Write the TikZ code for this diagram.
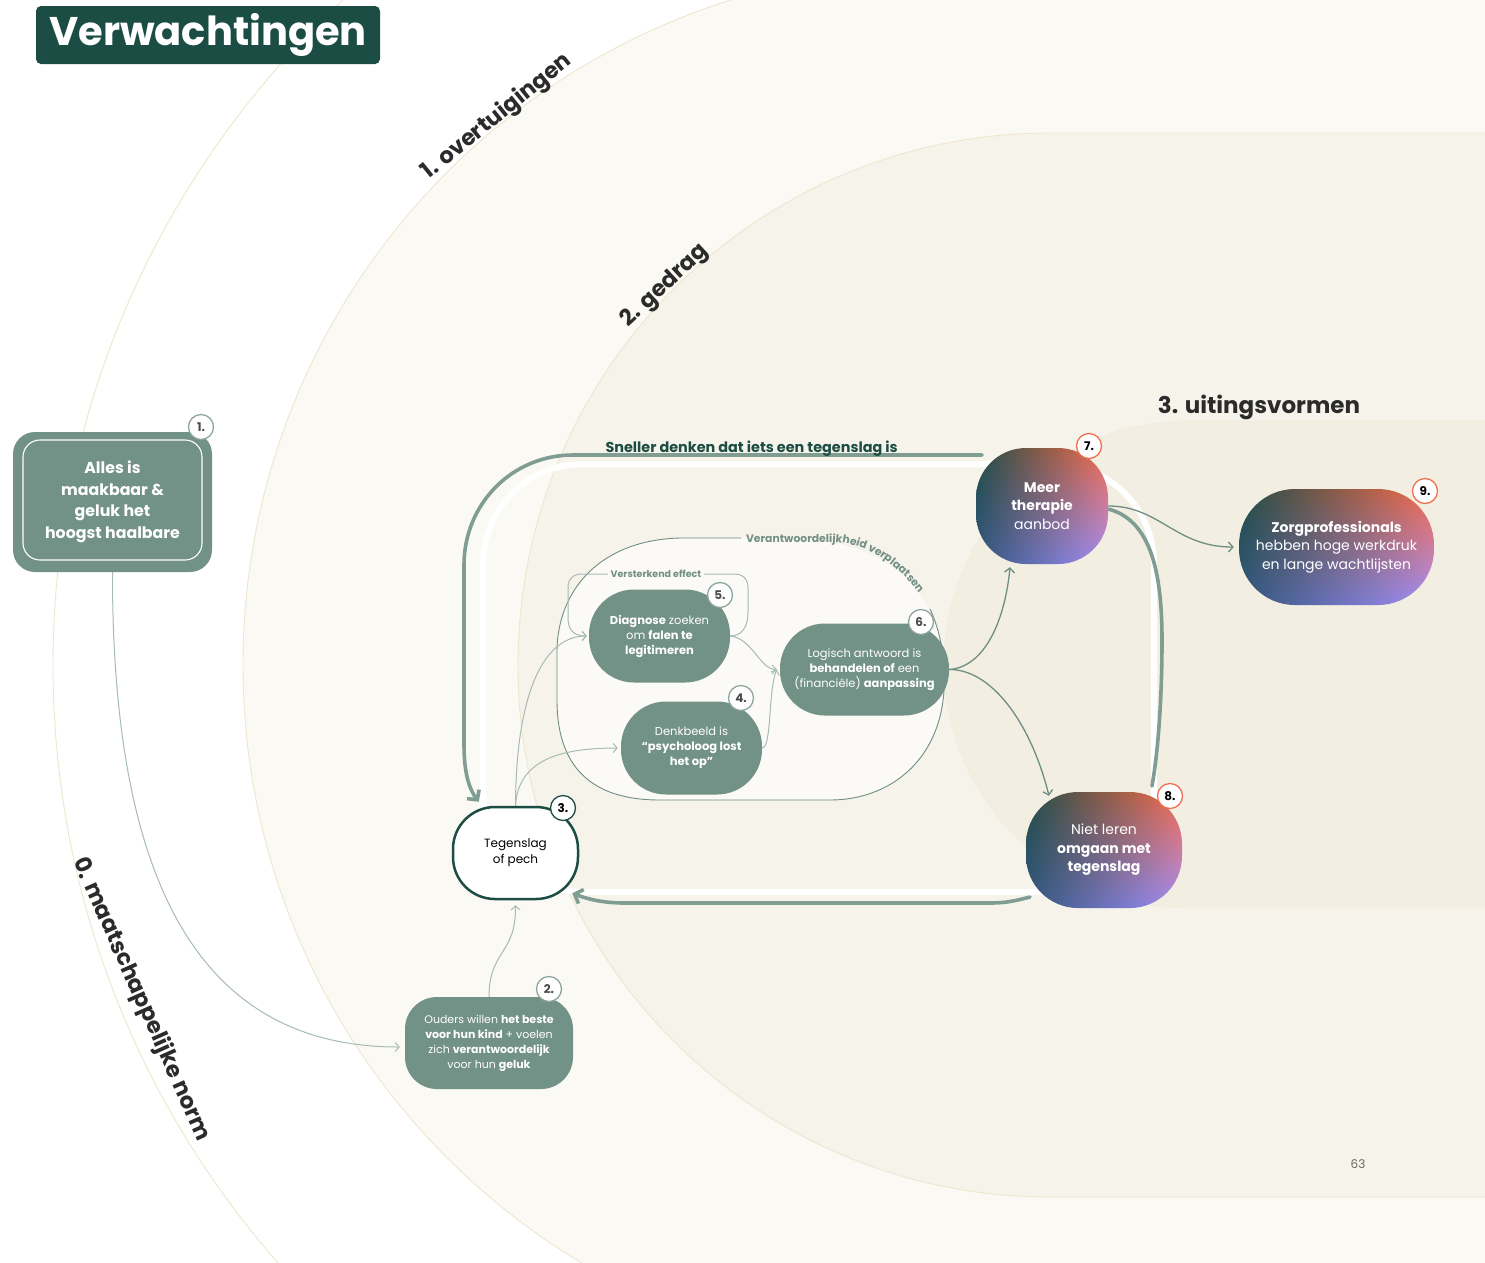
\documentclass[tikz,border=0pt]{standalone}
\usepackage{fontspec}
\setmainfont{Poppins}
\usetikzlibrary{arrows.meta,decorations.text}

\definecolor{regionA}{HTML}{FAF9F4}
\definecolor{regionB}{HTML}{F6F3EA}
\definecolor{regionC}{HTML}{F2EEE1}
\definecolor{rimline}{HTML}{EFE6CE}
\definecolor{loopfill}{HTML}{FBFAF6}
\definecolor{sage}{HTML}{729187}
\definecolor{sagethin}{HTML}{A6BBB3}
\definecolor{sagethick}{HTML}{7F9D92}
\definecolor{sagemid}{HTML}{6F8E84}
\definecolor{sagelabel}{HTML}{738F86}
\definecolor{deepgreen}{HTML}{1C4D44}
\definecolor{badgerim}{HTML}{8EA59D}
\definecolor{numgray}{HTML}{4A4A4A}
\definecolor{coral}{HTML}{F26E4E}
\definecolor{inkdark}{HTML}{2B2B2B}
\definecolor{pagegray}{HTML}{6A6A6A}

\pgfdeclarelayer{regions}
\pgfdeclarelayer{links}
\pgfsetlayers{regions,links,main}

% bilinear blend: teal (left top), blue (left bottom), coral (right top), lavender (right bottom)
\pgfdeclarefunctionalshading{warmglow}{\pgfpoint{-50bp}{-50bp}}{\pgfpoint{50bp}{50bp}}{}{
25 add 50 div exch 25 add 50 div exch
dup -0.08 mul 0.20 add 1 index 0.33 mul 0.64 add 1 index sub 3 index mul add
1 index -0.04 mul 0.34 add 2 index -0.14 mul 0.56 add 1 index sub 4 index mul add
2 index -0.22 mul 0.50 add 3 index -0.69 mul 0.98 add 1 index sub 5 index mul add
5 3 roll pop pop
}

\tikzset{
  sagebox/.style={fill=sage, text=white, align=center, inner sep=0pt},
  warmbox/.style={shade, shading=warmglow, text=white, align=center, inner sep=0pt},
  badge/.style={circle, fill=white, draw=badgerim, line width=1.3pt, minimum size=25pt,
    inner sep=0pt, text=numgray, font=\fontsize{12}{12}\selectfont\bfseries},
  hotbadge/.style={badge, draw=coral, text=black},
  thinlink/.style={draw=sagethin, line width=1pt, -{Straight Barb[length=4pt,width=9pt]}},
  midlink/.style={draw=sagemid, line width=1.3pt, -{Straight Barb[length=4.5pt,width=10pt]}},
  loopline/.style={draw=sagethick, line width=3.6pt, line cap=round},
  looptip/.style={-{Straight Barb[length=7pt,width=15pt]}},
  zonelabel/.style={font=\fontsize{22.5}{22.5}\selectfont\bfseries, text=inkdark},
  smalltext/.style={font=\fontsize{11.5}{15}\selectfont},
  bigtext/.style={font=\fontsize{14}{18.5}\selectfont},
}

\begin{document}
\begin{tikzpicture}[x=1pt, y=-1pt]
\path[use as bounding box] (0,0) rectangle (1485,1262);

% ---------- nodes ----------
\node[fill=deepgreen, rounded corners=5pt, minimum width=344pt, minimum height=58pt,
  text=white, font=\fontsize{40}{40}\selectfont\bfseries] (title) at (208,35) {Verwachtingen};

\node[sagebox, rounded corners=22pt, minimum width=199pt, minimum height=140pt,
  font=\fontsize{15.8}{21.5}\selectfont\bfseries] (n1) at (112.5,502)
  {Alles is\\maakbaar \&\\geluk het\\hoogst haalbare};
\draw[white, line width=1.1pt, rounded corners=17pt] (23,440) rectangle (202,560);

\node[sagebox, font=\fontsize{11}{15}\selectfont, rounded corners=32pt,
  minimum width=168pt, minimum height=92pt] (n2) at (489,1043)
  {Ouders willen \textbf{het beste}\\\textbf{voor hun kind} + voelen\\zich \textbf{verantwoordelijk}\\voor hun \textbf{geluk}};

\node[fill=white, draw=deepgreen, line width=2.5pt, rounded corners=42pt, align=center,
  minimum width=125pt, minimum height=92pt, inner sep=0pt, font=\fontsize{12}{16}\selectfont] (n3) at (515.5,853)
  {Tegenslag\\of pech};

\node[sagebox, smalltext, rounded corners=45pt, minimum width=141pt, minimum height=93pt] (n4) at (691.5,748)
  {Denkbeeld is\\\textbf{“psycholoog lost}\\\textbf{het op”}};

\node[sagebox, smalltext, rounded corners=45pt, minimum width=141pt, minimum height=93pt] (n5) at (659.5,636)
  {\textbf{Diagnose} zoeken\\om \textbf{falen te}\\\textbf{legitimeren}};

\node[sagebox, smalltext, rounded corners=45pt, minimum width=169pt, minimum height=92pt] (n6) at (864.5,669.5)
  {Logisch antwoord is\\\textbf{behandelen of} een\\(financiële) \textbf{aanpassing}};

\node[warmbox, bigtext, rounded corners=50pt, minimum width=132pt, minimum height=116pt] (n7) at (1042,506)
  {\textbf{Meer}\\\textbf{therapie}\\aanbod};

\node[warmbox, bigtext, rounded corners=52pt, minimum width=156pt, minimum height=116pt] (n8) at (1104,850)
  {Niet leren\\\textbf{omgaan met}\\\textbf{tegenslag}};

\node[warmbox, bigtext, rounded corners=56pt, minimum width=195pt, minimum height=116pt] (n9) at (1336.5,547)
  {\textbf{Zorgprofessionals}\\hebben hoge werkdruk\\en lange wachtlijsten};

% number badges
\node[badge] (b1) at (201,427) {1.};
\node[badge] (b2) at (549,989) {2.};
\node[badge, draw=deepgreen, text=black] (b3) at (563,808) {3.};
\node[badge] (b4) at (741,698) {4.};
\node[badge] (b5) at (720,595) {5.};
\node[badge] (b6) at (921,622) {6.};
\node[hotbadge] (b7) at (1089,446) {7.};
\node[hotbadge] (b8) at (1170,796) {8.};
\node[hotbadge] (b9) at (1425,491) {9.};

% zone labels
\node[zonelabel, rotate=39] (z1) at (497,117) {1. overtuigingen};
\node[zonelabel, rotate=43] (z2) at (665,286) {2. gedrag};
\node[zonelabel, font=\fontsize{23}{23}\selectfont\bfseries] (z3) at (1259,407) {3. uitingsvormen};
\node[zonelabel, rotate=-66] (z0) at (141,999) {0. maatschappelijke norm};

\node[anchor=base west, font=\fontsize{14.4}{14.4}\selectfont\bfseries, text=deepgreen] (quick) at (602,452)
  {Sneller denken dat iets een tegenslag is};

\node[font=\fontsize{12}{12}\selectfont, text=pagegray] (page) at (1358,1164) {63};

% free ends of the thick cycle strokes
\coordinate (s7) at (982,455);
\coordinate (s8) at (1152,786);
\coordinate (s8b) at (1030,897);

% ---------- background zones ----------
\begin{pgfonlayer}{regions}
\begin{scope}
\clip (0,0) rectangle (1485,1262);
\fill[white] (0,0) rectangle (1485,1262);
\draw[rimline, line width=0.9pt] (960,665) circle[radius=907];
\filldraw[fill=regionA, draw=rimline, line width=0.9pt]
  (1800,-32) -- (940,-32) arc[start angle=270, end angle=90, radius=697] -- (1800,1362) -- cycle;
\filldraw[fill=regionB, draw=rimline, line width=0.9pt]
  (1800,133) -- (1050,133) arc[start angle=270, end angle=90, radius=532] -- (1800,1197) -- cycle;
\filldraw[fill=regionC, draw=regionC!90!rimline, line width=0.6pt]
  (1800,421) -- (1187.5,421) arc[start angle=270, end angle=90, radius=243.5] -- (1800,908) -- cycle;
\end{scope}
\end{pgfonlayer}

% ---------- connectors ----------
\begin{pgfonlayer}{links}
% responsibility loop around 4, 5 and 6
\fill[loopfill] (741,538) -- (680,538) .. controls (600,540) and (558,590) .. (557,650)
  -- (557,700) .. controls (557,775) and (600,800) .. (660,800) -- (830,800)
  .. controls (890,800) and (940,760) .. (944,690) .. controls (946,660) and (940,630) .. (928,607)
  .. controls (905,565) and (860,538) .. (780,538) -- cycle;
\draw[sagemid, line width=0.9pt] (741,538) -- (680,538) .. controls (600,540) and (558,590) .. (557,650)
  -- (557,700) .. controls (557,775) and (600,800) .. (660,800) -- (830,800)
  .. controls (890,800) and (940,760) .. (944,690) .. controls (946,660) and (940,630) .. (930,609);
\path[decorate, decoration={text along path, text align=left,
   text={|\fontsize{10.8}{10.8}\selectfont\bfseries\color{sagelabel}|Verantwoordelijkheid verplaatsen}}]
  (746,542) -- (832,542) .. controls (870,543) and (905,568) .. (930,610);

% white ring of the cycle
\draw[white, line width=6pt, rounded corners=100pt] (483,464) rectangle (1154,892);

% thick cycle strokes
\draw[loopline, looptip] (s7) -- (573,455) .. controls (512,455) and (464,504) .. (464,565)
  -- (464,745) .. controls (464,775) and (470,790) .. ([xshift=27pt,yshift=4pt]n3.north west);
\draw[loopline] ([yshift=-3pt]n7.east) .. controls (1150,520) and (1162,570) .. (1162,640)
  .. controls (1162,700) and (1158,752) .. (s8);
\draw[loopline, looptip] (s8b) .. controls (1015,901) and (1005,903) .. (990,903) -- (625,903)
  .. controls (600,903) and (585,898) .. ([xshift=-7pt,yshift=7pt]n3.south east);

% thin links
\draw[thinlink] (n1.south) .. controls (112,900) and (210,1047) .. ([xshift=-5pt,yshift=-4pt]n2.west);
\draw[thinlink] (n2.north) .. controls (489,950) and (516,955) .. ([yshift=-5pt]n3.south);
\draw[thinlink] (n3.north) .. controls (516,690) and (545,636) .. ([xshift=-2pt]n5.west);
\draw[thinlink] (n3.north) .. controls (518,760) and (560,748) .. ([xshift=-3pt]n4.west);
\draw[thinlink] (n5.east) .. controls (752,638) and (760,669.5) .. ([xshift=-3pt]n6.west);
\draw[thinlink] (n4.east) .. controls (772,747) and (768,690) .. ([xshift=-3pt]n6.west);

% reinforcing loop over 5
\draw[thinlink] (n5.east) .. controls (742,636) and (748,627) .. (748,612) -- (748,588)
  .. controls (748,579) and (743,574) .. (734,574) -- (582,574)
  .. controls (573,574) and (568,579) .. (568,588) -- (568,618)
  .. controls (568,630) and (574,636) .. ([xshift=-2pt]n5.west);

% outcome links
\draw[midlink] (n6.east) .. controls (985,667) and (1005,620) .. ([xshift=-32pt,yshift=-3pt]n7.south);
\draw[midlink] (n6.east) .. controls (990,669) and (1030,720) .. ([xshift=-55pt,yshift=-4pt]n8.north);
\draw[midlink] (n7.east) .. controls (1160,506) and (1175,547) .. ([xshift=-5pt]n9.west);
\end{pgfonlayer}

\node[fill=loopfill, inner xsep=3pt, inner ysep=1pt, font=\fontsize{9.5}{9.5}\selectfont\bfseries,
  text=sagelabel] (vlabel) at (656,574) {Versterkend effect};
\end{tikzpicture}
\end{document}
